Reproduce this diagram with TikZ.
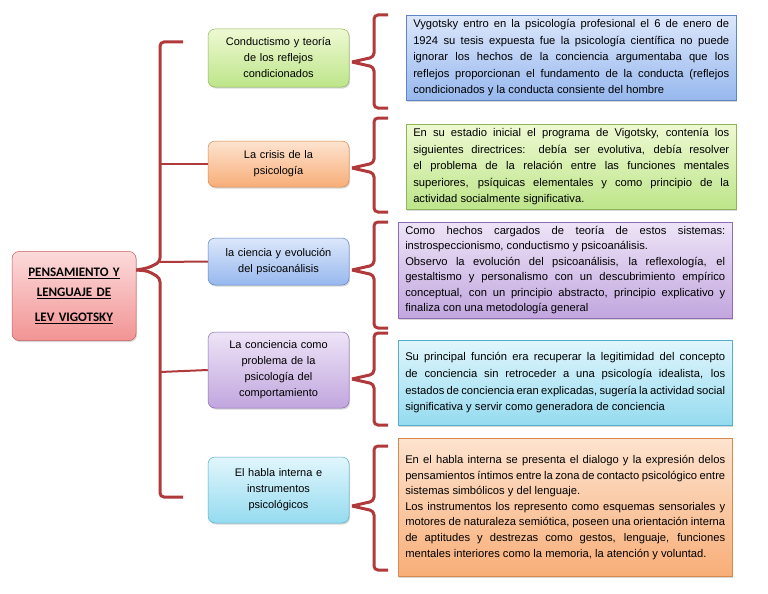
\documentclass[tikz,border=0pt]{standalone}
\usepackage{fontspec}
\setmainfont{Liberation Sans}
\newfontfamily\titlefont{Carlito}
\usetikzlibrary{shadows}
\hyphenpenalty=10000 \exhyphenpenalty=10000 \tolerance=9999 \emergencystretch=20pt
\definecolor{brk}{HTML}{B0393B}
\definecolor{gT}{HTML}{EEF9D2}\definecolor{gB}{HTML}{BDE58A}\definecolor{gD}{HTML}{8FB55A}
\definecolor{oT}{HTML}{FDE3CF}\definecolor{oB}{HTML}{F8AE78}\definecolor{oD}{HTML}{D8884A}
\definecolor{bT}{HTML}{DCE7FB}\definecolor{bB}{HTML}{97B8EE}\definecolor{bD}{HTML}{5F84C4}
\definecolor{pT}{HTML}{EEE4F7}\definecolor{pB}{HTML}{C1A6DE}\definecolor{pD}{HTML}{8E6BB4}
\definecolor{cT}{HTML}{E1F6FC}\definecolor{cB}{HTML}{95DBF0}\definecolor{cD}{HTML}{55AFCB}
\definecolor{rT}{HTML}{FCDADA}\definecolor{rB}{HTML}{F29494}\definecolor{rD}{HTML}{C85A5A}
\tikzset{
 sh/.style={drop shadow={opacity=0.3,shadow xshift=1pt,shadow yshift=-1.5pt}},
 lbox/.style={draw=#1D,top color=#1T,bottom color=#1B,line width=0.5pt,rounded corners=7pt,sh,inner sep=3pt,align=center,font=\fontsize{11pt}{16pt}\selectfont,text width=135pt},
 rbox/.style={draw=#1D,top color=#1T,bottom color=#1B,line width=0.5pt,sh,inner xsep=7pt,inner ysep=4pt,align=justify,font=\fontsize{11.2pt}{16.6pt}\selectfont,text width=316pt,anchor=north west},
 br/.style={draw=brk,line width=3pt,rounded corners=4pt},
}
\begin{document}
\begin{tikzpicture}[x=1pt,y=-1pt]
\useasboundingbox (0,0) rectangle (768,594);
\fill[white] (0,0) rectangle (768,594);
% main
\node[lbox=r,minimum width=124pt,minimum height=89pt,text width=118pt,font=\titlefont\bfseries\fontsize{13pt}{14pt}\selectfont] (main) at (74,296)
 {\underline{PENSAMIENTO Y}\\[6pt]\underline{LENGUAJE DE}\\[11pt]\underline{LEV VIGOTSKY}};
% level 2
\node[lbox=g,minimum width=141pt,minimum height=58pt] (b1) at (278.5,58) {Conductismo y teoría\\de los reflejos\\condicionados};
\node[lbox=o,minimum width=141pt,minimum height=46pt] (b2) at (278.5,164) {La crisis de la\\psicología};
\node[lbox=b,minimum width=141pt,minimum height=47pt] (b3) at (278.5,261.5) {la ciencia y evolución\\del psicoanálisis};
\node[lbox=p,minimum width=141pt,minimum height=76pt] (b4) at (278.5,370) {La conciencia como\\problema de la\\psicología del\\comportamiento};
\node[lbox=c,minimum width=141pt,minimum height=66pt] (b5) at (278.5,490) {El habla interna e\\instrumentos\\psicológicos};
% main bracket
\coordinate (t1) at (183,42); \coordinate (t5) at (183,497);
\draw[br] (t1) -- (160,42) -- (160,262) -- (148,268) -- (main.east|-0,270);
\draw[br] (main.east|-0,270) -- (148,271) -- (160,278) -- (160,497) -- (t5);
\draw[brk,line width=2pt] (160,164) -- (b2.west);
\draw[brk,line width=2pt] (160,262) -- (b3.west);
\draw[brk,line width=2pt] (160,372) -- (b4.west);
% right boxes
\node[rbox=b,minimum height=83pt] (r1) at (406,15) {Vygotsky entro en la psicología profesional el 6 de enero de 1924 su tesis expuesta fue la psicología científica no puede ignorar los hechos de la conciencia argumentaba que los reflejos proporcionan el fundamento de la conducta (reflejos condicionados y la conducta consiente del hombre};
\node[rbox=g,minimum height=81pt] (r2) at (406,124) {En su estadio inicial el programa de Vigotsky, contenía los siguientes directrices: debía ser evolutiva, debía resolver el problema de la relación entre las funciones mentales superiores, psíquicas elementales y como principio de la actividad socialmente significativa.};
\node[rbox=p,minimum height=96pt,text width=320pt,font=\fontsize{11.2pt}{15.5pt}\selectfont] (r3) at (398,222) {Como hechos cargados de teoría de estos sistemas: instrospeccionismo, conductismo y psicoanálisis.\newline Observo la evolución del psicoanálisis, la reflexología, el gestaltismo y personalismo con un descubrimiento empírico conceptual, con un principio abstracto, principio explicativo y finaliza con una metodología general};
\node[rbox=c,minimum height=85pt,text width=320pt] (r4) at (398,340) {Su principal función era recuperar la legitimidad del concepto de conciencia sin retroceder a una psicología idealista, los estados de conciencia eran explicadas, sugería la actividad social significativa y servir como generadora de conciencia};
\node[rbox=o,minimum height=138pt,text width=320pt,font=\fontsize{11.2pt}{15.6pt}\selectfont] (r5) at (398,438) {En el habla interna se presenta el dialogo y la expresión delos pensamientos íntimos entre la zona de contacto psicológico entre sistemas simbólicos y del lenguaje.\newline Los instrumentos los represento como esquemas sensoriales y motores de naturaleza semiótica, poseen una orientación interna de aptitudes y destrezas como gestos, lenguaje, funciones mentales interiores como la memoria, la atención y voluntad.};
% right brackets
\foreach \n/\t/\m/\b in {1/15/62/108, 2/118/168/212, 3/222/270/328, 4/333/379/425, 5/446/506/570}{
 \coordinate (k\n) at (352,\m);
 \draw[br] (388,\t) -- (374,\t) -- (374,\m-5) -- (k\n);
 \draw[br] (k\n) -- (374,\m+5) -- (374,\b) -- (388,\b);
}
\end{tikzpicture}
\end{document}
